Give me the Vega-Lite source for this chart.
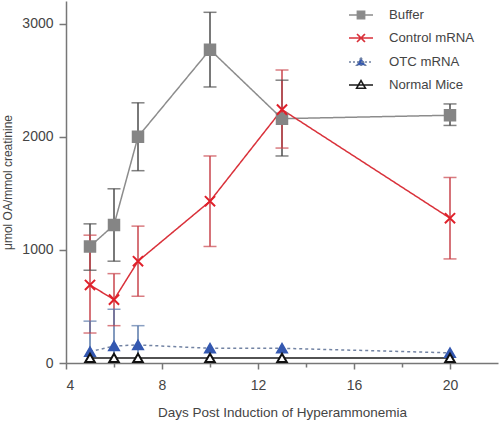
{
  "$schema": "https://vega.github.io/schema/vega-lite/v6.json",
  "width": 432,
  "height": 362,
  "autosize": {"type": "none"},
  "padding": {"left": 66, "top": 1, "right": 2, "bottom": 59},
  "background": "white",
  "config": {
    "view": {"stroke": null},
    "font": "Liberation Sans",
    "axis": {
      "grid": false,
      "domainColor": "#777777",
      "domainWidth": 1.5,
      "tickColor": "#777777",
      "tickWidth": 1.5,
      "labelColor": "#444444",
      "labelFontSize": 14,
      "titleColor": "#444444",
      "titleFontSize": 13.5,
      "titleFontWeight": "normal"
    }
  },
  "data": {
    "values": [
      {"group": "Buffer", "day": 5, "value": 1030, "lo": 820, "hi": 1230},
      {"group": "Buffer", "day": 6, "value": 1220, "lo": 900, "hi": 1540},
      {"group": "Buffer", "day": 7, "value": 2000, "lo": 1700, "hi": 2300},
      {"group": "Buffer", "day": 10, "value": 2770, "lo": 2440, "hi": 3100},
      {"group": "Buffer", "day": 13, "value": 2160, "lo": 1830, "hi": 2500},
      {"group": "Buffer", "day": 20, "value": 2190, "lo": 2100, "hi": 2290},
      {"group": "Control mRNA", "day": 5, "value": 690, "lo": 265, "hi": 1130},
      {"group": "Control mRNA", "day": 6, "value": 560, "lo": 330, "hi": 790},
      {"group": "Control mRNA", "day": 7, "value": 900, "lo": 590, "hi": 1210},
      {"group": "Control mRNA", "day": 10, "value": 1430, "lo": 1030, "hi": 1830},
      {"group": "Control mRNA", "day": 13, "value": 2240, "lo": 1900, "hi": 2590},
      {"group": "Control mRNA", "day": 20, "value": 1280, "lo": 920, "hi": 1640},
      {"group": "OTC mRNA", "day": 5, "value": 100, "lo": -170, "hi": 370},
      {"group": "OTC mRNA", "day": 6, "value": 150, "lo": -180, "hi": 475},
      {"group": "OTC mRNA", "day": 7, "value": 160, "lo": -10, "hi": 330},
      {"group": "OTC mRNA", "day": 10, "value": 130, "lo": null, "hi": null},
      {"group": "OTC mRNA", "day": 13, "value": 130, "lo": null, "hi": null},
      {"group": "OTC mRNA", "day": 20, "value": 90, "lo": null, "hi": null},
      {"group": "Normal Mice", "day": 5, "value": 45, "lo": null, "hi": null},
      {"group": "Normal Mice", "day": 6, "value": 45, "lo": null, "hi": null},
      {"group": "Normal Mice", "day": 7, "value": 45, "lo": null, "hi": null},
      {"group": "Normal Mice", "day": 10, "value": 45, "lo": null, "hi": null},
      {"group": "Normal Mice", "day": 13, "value": 45, "lo": null, "hi": null},
      {"group": "Normal Mice", "day": 20, "value": 45, "lo": null, "hi": null}
    ]
  },
  "encoding": {
    "x": {
      "field": "day",
      "type": "quantitative",
      "scale": {"domain": [4, 22], "nice": false, "zero": false},
      "axis": {
        "title": "Days Post Induction of Hyperammonemia",
        "values": [4, 6, 8, 10, 12, 14, 16, 18, 20],
        "labelExpr": "datum.value % 4 === 0 ? datum.label : ''",
        "tickSize": {"condition": {"test": "datum.value % 4 === 0", "value": 6}, "value": 4},
        "labelPadding": 9,
        "titlePadding": 13
      }
    }
  },
  "layer": [
    {
      "mark": {"type": "line", "strokeWidth": 1.5},
      "encoding": {
        "y": {
          "field": "value",
          "type": "quantitative",
          "scale": {"domain": [0, 3200], "nice": false},
          "axis": {
            "title": "μmol OA/mmol creatinine",
            "titleFontSize": 12,
            "values": [0, 1000, 2000, 3000],
            "format": "d",
            "tickSize": 7,
            "labelPadding": 6,
            "titlePadding": 7
          }
        },
        "color": {
          "field": "group",
          "type": "nominal",
          "scale": {
            "domain": ["Buffer", "Control mRNA", "OTC mRNA", "Normal Mice"],
            "range": ["#8c8c8c", "#d9313a", "#7283a3", "#1a1a1a"]
          },
          "legend": {
            "title": null,
            "orient": "none",
            "legendX": 286,
            "legendY": 5,
            "padding": 0,
            "symbolSize": 256,
            "symbolStrokeWidth": 1.6,
            "rowPadding": 7,
            "labelOffset": 19,
            "labelFontSize": 13.2,
            "labelColor": "#444444",
            "encode": {
              "symbols": {
                "update": {
                  "shape": {"signal": "datum.value === 'Buffer' ? 'M-1.5,0H1.5M-0.45,-0.45H0.45V0.45H-0.45Z' : datum.value === 'Control mRNA' ? 'M-1.5,0H1.5M-0.5,-0.5L0.5,0.5M-0.5,0.5L0.5,-0.5' : 'M-1.5,0H1.5M0,-0.55L0.55,0.4H-0.55Z'"},
                  "fill": {"signal": "datum.value === 'Buffer' ? '#8a8a8a' : datum.value === 'Control mRNA' ? 'transparent' : datum.value === 'OTC mRNA' ? '#3458b0' : '#ffffff'"},
                  "stroke": {"signal": "datum.value === 'Buffer' ? '#8a8a8a' : datum.value === 'Control mRNA' ? '#e0202a' : datum.value === 'OTC mRNA' ? '#3458b0' : '#111111'"},
                  "strokeDash": {"signal": "datum.value === 'OTC mRNA' ? [2, 2] : [1, 0]"},
                  "opacity": {"value": 1}
                }
              }
            }
          }
        },
        "strokeDash": {
          "field": "group",
          "type": "nominal",
          "scale": {
            "domain": ["Buffer", "Control mRNA", "OTC mRNA", "Normal Mice"],
            "range": [[1, 0], [1, 0], [3, 3], [1, 0]]
          },
          "legend": null
        }
      }
    },
    {
      "transform": [{"filter": "datum.hi != null"}],
      "mark": {"type": "rule", "strokeWidth": 1.5, "clip": true},
      "encoding": {
        "y": {"field": "lo", "type": "quantitative"},
        "y2": {"field": "hi"},
        "stroke": {
          "field": "group",
          "type": "nominal",
          "scale": {
            "domain": ["Buffer", "Control mRNA", "OTC mRNA", "Normal Mice"],
            "range": ["#4d4d4d", "#c9454c", "#5878a8", "#111111"]
          },
          "legend": null
        }
      }
    },
    {
      "transform": [{"filter": "datum.hi != null"}],
      "mark": {"type": "tick", "orient": "horizontal", "size": 13, "thickness": 1.5, "clip": true},
      "encoding": {
        "y": {"field": "hi", "type": "quantitative"},
        "color": {
          "field": "group",
          "type": "nominal",
          "scale": {
            "domain": ["Buffer", "Control mRNA", "OTC mRNA", "Normal Mice"],
            "range": ["#4d4d4d", "#c9454c", "#5878a8", "#111111"]
          },
          "legend": null
        }
      }
    },
    {
      "transform": [{"filter": "datum.lo != null"}],
      "mark": {"type": "tick", "orient": "horizontal", "size": 13, "thickness": 1.5, "clip": true},
      "encoding": {
        "y": {"field": "lo", "type": "quantitative"},
        "color": {
          "field": "group",
          "type": "nominal",
          "scale": {
            "domain": ["Buffer", "Control mRNA", "OTC mRNA", "Normal Mice"],
            "range": ["#4d4d4d", "#c9454c", "#5878a8", "#111111"]
          },
          "legend": null
        }
      }
    },
    {
      "mark": {"type": "point", "strokeWidth": 2, "opacity": 1, "fillOpacity": 1},
      "encoding": {
        "y": {"field": "value", "type": "quantitative"},
        "shape": {
          "field": "group",
          "type": "nominal",
          "scale": {
            "domain": ["Buffer", "Control mRNA", "OTC mRNA", "Normal Mice"],
            "range": ["square", "M-1,-1L1,1M-1,1L1,-1", "triangle-up", "triangle-up"]
          },
          "legend": null
        },
        "fill": {
          "field": "group",
          "type": "nominal",
          "scale": {
            "domain": ["Buffer", "Control mRNA", "OTC mRNA", "Normal Mice"],
            "range": ["#858585", "transparent", "#3458b0", "#ffffff"]
          },
          "legend": null
        },
        "stroke": {
          "field": "group",
          "type": "nominal",
          "scale": {
            "domain": ["Buffer", "Control mRNA", "OTC mRNA", "Normal Mice"],
            "range": ["#858585", "#e0202a", "#3458b0", "#111111"]
          },
          "legend": null
        },
        "size": {
          "field": "group",
          "type": "nominal",
          "scale": {
            "domain": ["Buffer", "Control mRNA", "OTC mRNA", "Normal Mice"],
            "range": [110, 90, 90, 90]
          },
          "legend": null
        }
      }
    }
  ],
  "resolve": {"scale": {"color": "independent", "stroke": "independent", "fill": "independent"}}
}
